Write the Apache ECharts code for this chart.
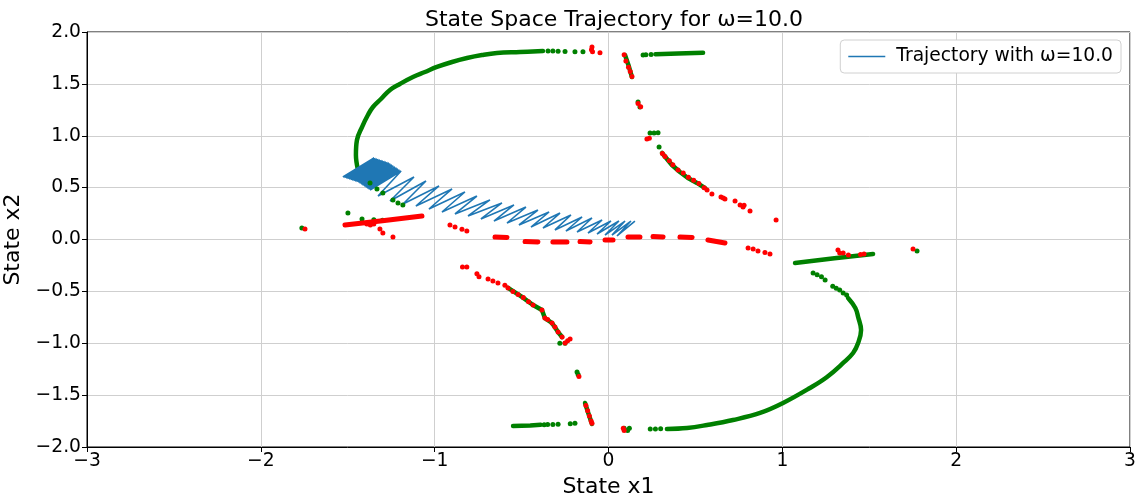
<!DOCTYPE html>
<html>
<head>
<meta charset="utf-8">
<script src="https://cdn.jsdelivr.net/npm/echarts@6/dist/echarts.min.js"></script>
<style>html,body{margin:0;padding:0;background:#fff}#c{width:1147px;height:497px}</style>
</head>
<body>
<div id="c"></div>
<script>
// ---- Tick labels ----
const xTicks = [-3, -2, -1, 0, 1, 2, 3];
const yTicks = [-2.0, -1.5, -1.0, -0.5, 0.0, 0.5, 1.0, 1.5, 2.0];

// ---- Blue trajectory (alternating lower / upper turning points) ----
const trajLowX = [-1.528,-1.519,-1.510,-1.502,-1.493,-1.484,-1.476,-1.467,-1.459,-1.450,-1.441,-1.433,-1.424,-1.416,-1.407,-1.398,-1.390,-1.381,-1.372,
  -1.326,-1.257,-1.182,-1.108,-1.033,-0.958,-0.883,-0.808,-0.734,-0.659,-0.584,-0.515,-0.446,-0.377,-0.308,-0.245,-0.181,-0.118,-0.066,-0.020,0.020,0.049];
const trajLowY = [0.602,0.597,0.593,0.588,0.583,0.578,0.573,0.569,0.564,0.559,0.554,0.545,0.535,0.525,0.516,0.506,0.496,0.487,0.477,
  0.419,0.371,0.342,0.323,0.294,0.265,0.246,0.227,0.198,0.178,0.159,0.140,0.120,0.111,0.092,0.082,0.072,0.063,0.053,0.043,0.043,0.034];
const trajHighX = [-1.349,-1.340,-1.331,-1.323,-1.314,-1.305,-1.297,-1.288,-1.280,-1.271,-1.262,-1.254,-1.245,-1.237,-1.228,-1.219,-1.211,-1.202,-1.193,
  -1.119,-1.050,-0.975,-0.900,-0.826,-0.757,-0.682,-0.613,-0.544,-0.475,-0.406,-0.342,-0.279,-0.216,-0.152,-0.095,-0.037,0.014,0.060,0.095,0.129,0.152];
const trajHighY = [0.786,0.781,0.776,0.771,0.766,0.761,0.757,0.752,0.747,0.742,0.737,0.728,0.718,0.709,0.699,0.690,0.680,0.670,0.660,
  0.602,0.564,0.516,0.487,0.458,0.419,0.381,0.352,0.333,0.313,0.284,0.265,0.255,0.236,0.217,0.207,0.188,0.178,0.178,0.178,0.178,0.178];

// ---- Green dense streams ----
const greenUpperArc = [[-1.441,0.670],[-1.453,0.814],[-1.447,0.959],[-1.418,1.084],[-1.384,1.200],[-1.355,1.277],[-1.309,1.354],[-1.257,1.441],[-1.200,1.499],[-1.125,1.566],[-1.056,1.614],[-0.987,1.663],[-0.900,1.711],[-0.814,1.749],[-0.728,1.778],[-0.642,1.798],[-0.509,1.807],[-0.377,1.817]];
const greenLowerArc = [[1.378,-0.564],[1.420,-0.660],[1.436,-0.747],[1.453,-0.872],[1.436,-0.998],[1.407,-1.094],[1.350,-1.190],[1.257,-1.325],[1.159,-1.431],[1.004,-1.576],[0.872,-1.672],[0.716,-1.740],[0.567,-1.788],[0.452,-1.817],[0.336,-1.826]];
const greenTopBar = [[0.270,1.786],[0.400,1.792],[0.544,1.800]];
const greenBottomBar = [[-0.549,-1.798],[-0.450,-1.792],[-0.390,-1.786]];
const greenRightBar = [[1.073,-0.227],[1.300,-0.180],[1.522,-0.140]];
const greenTopVert = [[0.095,1.778],[0.115,1.680],[0.135,1.566]];
const greenBottomVert = [[-0.135,-1.576],[-0.115,-1.680],[-0.095,-1.778]];
const greenUpperDesc = [[0.308,0.834],[0.365,0.718],[0.411,0.651],[0.457,0.593],[0.509,0.545],[0.556,0.496]];
const greenLowerDesc = [[-0.578,-0.467],[-0.500,-0.550],[-0.434,-0.631],[-0.383,-0.680],[-0.366,-0.757],[-0.325,-0.805],[-0.290,-0.892],[-0.267,-0.940]];

// ---- Green isolated dots ----
const greenDots = [[-0.348,1.817],[-0.320,1.817],[-0.290,1.815],[-0.250,1.812],[-0.193,1.810],[-0.147,1.810],
  [0.199,1.778],[0.215,1.780],[0.245,1.782],[0.170,1.325],[0.181,1.277],[0.239,1.026],[0.262,1.026],[0.285,1.030],[0.291,0.892],
  [-1.372,0.545],[-1.332,0.487],[-1.298,0.448],[-1.240,0.381],[-1.211,0.352],[-1.183,0.333],
  [-1.499,0.255],[-1.764,0.111],[-1.418,0.198],[-1.350,0.190],[-1.300,0.185],[1.775,-0.111],
  [1.177,-0.323],[1.200,-0.340],[1.225,-0.360],[1.246,-0.390],[1.290,-0.450],[1.310,-0.470],[1.330,-0.487],[1.350,-0.516],[1.370,-0.535],
  [0.240,-1.826],[0.270,-1.826],[0.300,-1.825],[0.090,-1.820],[0.110,-1.840],[0.120,-1.820],
  [-0.181,-1.277],[-0.175,-1.300],[-0.370,-1.785],[-0.350,-1.784],[-0.320,-1.782],[-0.290,-1.780],[-0.220,-1.775],[-0.193,-1.772],
  [-0.280,-1.000],[-0.250,-1.000]];

// ---- Red dense streams ----
const redLeftBar = [[-1.516,0.140],[-1.300,0.180],[-1.073,0.227]];
const redDashes = [
  [[-0.653,0.024],[-0.584,0.020]], [[-0.480,-0.020],[-0.406,-0.024]], [[-0.320,-0.024],[-0.239,-0.024]],
  [[-0.164,-0.020],[-0.106,-0.024]], [[-0.020,-0.005],[0.026,-0.005]], [[0.112,0.024],[0.181,0.024]],
  [[0.256,0.028],[0.314,0.024]], [[0.411,0.024],[0.481,0.020]], [[0.572,-0.005],[0.670,-0.034]]];

// ---- Red isolated dots ----
const redDots = [[-0.095,1.855],[-0.098,1.830],[-0.092,1.810],[-0.049,1.800],
  [0.090,1.780],[0.100,1.720],[0.115,1.660],[0.125,1.620],[0.135,1.570],[0.170,1.310],[0.185,1.280],[0.221,0.968],[0.235,0.975],
  [0.310,0.830],[0.325,0.800],[0.350,0.760],[0.370,0.720],[0.400,0.670],[0.430,0.640],[0.460,0.600],[0.490,0.570],[0.520,0.540],[0.550,0.500],
  [0.567,0.477],[0.595,0.439],[0.647,0.410],[0.660,0.400],[0.670,0.390],[0.728,0.371],[0.757,0.333],[0.774,0.313],[0.780,0.330],[0.814,0.275],[0.964,0.188],
  [-1.746,0.101],[-1.390,0.150],[-1.370,0.140],[-1.350,0.150],[-1.315,0.101],[-1.298,0.063],[-1.240,0.024],
  [-0.912,0.140],[-0.883,0.120],[-0.843,0.100],[-0.815,0.082],
  [0.803,-0.082],[0.832,-0.092],[0.860,-0.111],[0.900,-0.125],[0.929,-0.140],
  [-0.840,-0.265],[-0.815,-0.265],[-0.757,-0.330],[-0.745,-0.360],[-0.693,-0.380],[-0.665,-0.400],[-0.636,-0.420],[-0.596,-0.440],
  [-0.578,-0.467],[-0.550,-0.500],[-0.520,-0.530],[-0.490,-0.560],[-0.460,-0.600],[-0.434,-0.631],[-0.383,-0.680],[-0.366,-0.757],
  [-0.350,-0.770],[-0.325,-0.805],[-0.308,-0.843],[-0.290,-0.892],[-0.267,-0.940],[-0.250,-0.998],[-0.221,-0.959],[-0.235,-0.975],
  [-0.130,-1.600],[-0.120,-1.650],[-0.110,-1.700],[-0.100,-1.750],[-0.095,-1.770],[-0.170,-1.320],[0.085,-1.820],[0.090,-1.840],
  [1.320,-0.100],[1.330,-0.130],[1.350,-0.130],[1.380,-0.150],[1.450,-0.145],[1.470,-0.140],[1.752,-0.092]];

// ---- build series data ----
const traj = [];
for (let i = 0; i < trajLowX.length; i++) {
  traj.push([trajLowX[i], trajLowY[i]]);
  traj.push([trajHighX[i], trajHighY[i]]);
}
function joinSegs(segs) {
  const out = [];
  segs.forEach((s, k) => { if (k) out.push(['-', '-']); s.forEach(p => out.push(p)); });
  return out;
}
const greenArcs = joinSegs([greenUpperArc, greenLowerArc]);
const greenLines = joinSegs([greenTopBar, greenBottomBar, greenRightBar, greenTopVert, greenBottomVert, greenUpperDesc, greenLowerDesc]);
const redLines = joinSegs([redLeftBar].concat(redDashes));

const FONT = 'DejaVu Sans';
const minus = s => s.replace('-', '\u2212');
const chart = echarts.init(document.getElementById('c'), null, {renderer: 'canvas'});
chart.setOption({
  animation: false,
  backgroundColor: '#fff',
  textStyle: {fontFamily: FONT},
  title: {
    text: 'State Space Trajectory for ω=10.0', left: 609, top: 4, textAlign: 'center',
    textStyle: {fontFamily: FONT, fontSize: 22, fontWeight: 'normal', color: '#000'}
  },
  legend: {
    data: [{name: 'Trajectory with ω=10.0', icon: 'rect'}],
    right: 26, top: 40, itemWidth: 37, itemHeight: 1.6, itemGap: 10,
    padding: [7, 8, 7, 8], borderColor: '#d0d0d0', borderWidth: 1, borderRadius: 4,
    backgroundColor: '#fff',
    textStyle: {fontFamily: FONT, fontSize: 18.7, color: '#000', padding: [0, 0, 0, 6]}
  },
  grid: {left: 87, right: 17, top: 32, bottom: 50, show: true, borderColor: '#000', borderWidth: 1,
    backgroundColor: 'transparent', outerBoundsMode: 'none', containLabel: false},
  xAxis: {
    type: 'value', min: -3, max: 3, interval: 1,
    name: 'State x1', nameLocation: 'middle', nameGap: 27,
    nameTextStyle: {fontFamily: FONT, fontSize: 22, color: '#000'},
    axisLine: {show: true, onZero: false, lineStyle: {color: '#000', width: 1}},
    axisTick: {show: true, length: 5, lineStyle: {color: '#000'}},
    axisLabel: {fontFamily: FONT, fontSize: 18.7, color: '#000', margin: 5,
      formatter: v => minus(String(v))},
    splitLine: {show: true, lineStyle: {color: '#cfcfcf', width: 1}}
  },
  yAxis: {
    type: 'value', min: -2, max: 2, interval: 0.5,
    name: 'State x2', nameLocation: 'middle', nameGap: 52,
    nameTextStyle: {fontFamily: FONT, fontSize: 22, color: '#000'},
    axisLine: {show: true, onZero: false, lineStyle: {color: '#000', width: 1}},
    axisTick: {show: true, length: 5, lineStyle: {color: '#000'}},
    axisLabel: {fontFamily: FONT, fontSize: 18.7, color: '#000', margin: 6,
      formatter: v => minus(v.toFixed(1))},
    splitLine: {show: true, lineStyle: {color: '#cfcfcf', width: 1}}
  },
  series: [
    {name: 'Trajectory with ω=10.0', type: 'line', data: traj, showSymbol: false, symbol: 'none',
      lineStyle: {color: '#1f77b4', width: 1.6}, itemStyle: {color: '#1f77b4'}, z: 3, silent: true},
    {name: 'greenArcs', type: 'line', data: greenArcs, showSymbol: false, symbol: 'none', connectNulls: false, smooth: 0.4,
      lineStyle: {color: '#008000', width: 4.5, cap: 'round', join: 'round'}, z: 2, silent: true},
    {name: 'greenStream', type: 'line', data: greenLines, showSymbol: false, symbol: 'none', connectNulls: false,
      lineStyle: {color: '#008000', width: 4.5, cap: 'round', join: 'round'}, z: 2, silent: true},
    {name: 'greenDots', type: 'scatter', data: greenDots, symbolSize: 5, itemStyle: {color: '#008000', opacity: 1}, z: 4, silent: true},
    {name: 'redStream', type: 'line', data: redLines, showSymbol: false, symbol: 'none', connectNulls: false,
      lineStyle: {color: '#ff0000', width: 5, cap: 'round', join: 'round'}, z: 5, silent: true},
    {name: 'redDots', type: 'scatter', data: redDots, symbolSize: 5, itemStyle: {color: '#ff0000', opacity: 1}, z: 6, silent: true}
  ]
});
</script>
</body>
</html>
